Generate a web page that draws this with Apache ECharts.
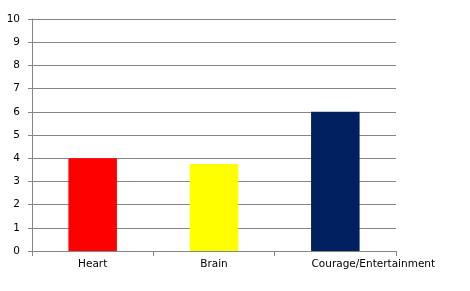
<!DOCTYPE html>
<html>
<head>
<meta charset="utf-8">
<script src="https://cdn.jsdelivr.net/npm/echarts@6/dist/echarts.min.js"></script>
<style>html,body{margin:0;padding:0;background:#fff}#c{width:470px;height:291px}</style>
</head>
<body>
<div id="c"></div>
<script>
var categories = ['Heart', 'Brain', 'Courage/Entertainment'];
var values = [4, 3.75, 6];
var colors = ['#FF0000', '#FFFF00', '#002060'];
var yTicks = [0, 1, 2, 3, 4, 5, 6, 7, 8, 9, 10];

var chart = echarts.init(document.getElementById('c'), null, {renderer: 'canvas'});
var gray = '#868686';
chart.setOption({
  animation: false,
  backgroundColor: '#fff',
  grid: {left: 32, right: 74, top: 19, bottom: 40, containLabel: false},
  xAxis: {
    type: 'category',
    data: categories,
    boundaryGap: true,
    axisLine: {lineStyle: {color: gray, width: 1}},
    axisTick: {show: true, alignWithLabel: false, interval: 0, length: 5, lineStyle: {color: gray}},
    axisLabel: {
      interval: 0, hideOverlap: false,
      color: '#000', fontFamily: 'DejaVu Sans', fontSize: 10.5, margin: 8,
      formatter: function (v, i) {
        if (i === 2) return '{gap|}{t|' + v + '}';
        return '{t|' + v + '}';
      },
      rich: {
        gap: {width: 76},
        t: {color: '#000', fontFamily: 'DejaVu Sans', fontSize: 10.5}
      }
    }
  },
  yAxis: {
    type: 'value',
    min: yTicks[0],
    max: yTicks[yTicks.length - 1],
    interval: 1,
    axisLine: {show: true, lineStyle: {color: gray, width: 1}},
    axisTick: {show: true, length: 4, lineStyle: {color: gray}},
    splitLine: {show: true, lineStyle: {color: gray, width: 1}},
    axisLabel: {color: '#000', fontFamily: 'DejaVu Sans', fontSize: 10.5, margin: 12}
  },
  series: [{
    type: 'bar',
    barWidth: '40%',
    data: values.map(function (v, i) { return {value: v, itemStyle: {color: colors[i]}}; })
  }]
});
</script>
</body>
</html>
